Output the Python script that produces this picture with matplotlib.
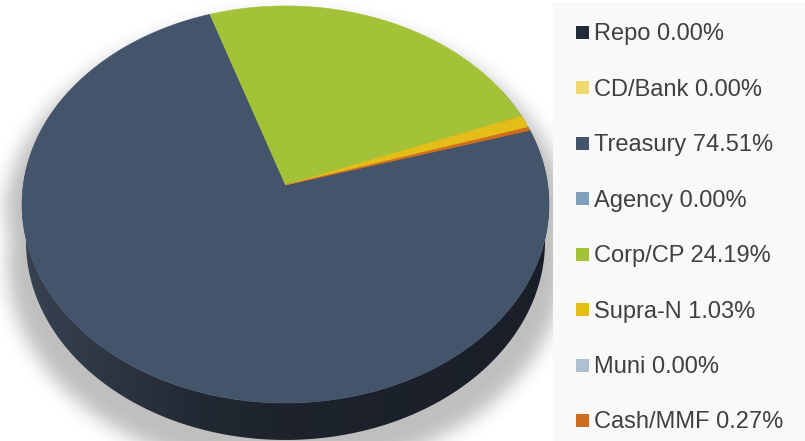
import numpy as np
import matplotlib
matplotlib.use("Agg")
import matplotlib.pyplot as plt
from matplotlib.patches import Polygon, Rectangle
from matplotlib.path import Path

# ---------------- data ----------------
categories = ["Repo", "CD/Bank", "Treasury", "Agency", "Corp/CP", "Supra-N", "Muni", "Cash/MMF"]
values = [0.00, 0.00, 74.51, 0.00, 24.19, 1.03, 0.00, 0.27]
colors = ["#222b38", "#f0da70", "#44546a", "#809fb8", "#a3c238", "#e4bd18", "#adc1d1", "#cf6c1d"]
labels = [f"{c} {v:.2f}%" for c, v in zip(categories, values)]

# ---------------- geometry (pixels) ----------------
W, H = 805, 441
CX, CY = 285.5, 185.0          # apex of the pie on the top face
A, B, K = 262.2, 196.6, 0.098  # perspective ellipse parameters
DEPTH, SX_BOT = 37.0, 0.985
START = 73.4                   # degrees, clockwise from the back

fig = plt.figure(figsize=(8.05, 4.41), dpi=100)
fig.patch.set_facecolor("white")
ax = fig.add_axes([0, 0, 1, 1])
ax.set_xlim(0, W)
ax.set_ylim(H, 0)
ax.axis("off")


def proj(theta_deg, dy=0.0, sx=1.0):
    t = np.radians(theta_deg)
    u = np.sin(t)
    v = -np.cos(t)
    w = 1 - K * v
    return CX + A * sx * u / w, CY + dy + B * v / w


# silhouette of the whole cylinder
tb = np.linspace(90, 270, 200)
tt = np.linspace(270, 450, 200)
bx, by = proj(tb, DEPTH, SX_BOT)
tx, ty = proj(tt)
sil_x = np.concatenate([bx, tx])
sil_y = np.concatenate([by, ty])

# ---------------- shadow ----------------
pad = 60
gx = np.arange(-pad, W + pad)
gy = np.arange(-pad, H + pad)
XX, YY = np.meshgrid(gx, gy)
shx = CX + (sil_x - CX) * 1.07
shy = 205 + (sil_y - 205) * 1.05 + 20
mask = Path(np.column_stack([shx, shy])).contains_points(
    np.column_stack([XX.ravel(), YY.ravel()])).reshape(XX.shape).astype(float)
sig = 9.0
kx = np.arange(-3 * int(sig), 3 * int(sig) + 1)
kern = np.exp(-kx ** 2 / (2 * sig ** 2))
kern /= kern.sum()
blur = np.apply_along_axis(lambda r: np.convolve(r, kern, mode="same"), 1, mask)
blur = np.apply_along_axis(lambda c: np.convolve(c, kern, mode="same"), 0, blur)
rgba = np.zeros(blur.shape + (4,))
rgba[..., :3] = 0.3
rgba[..., 3] = 0.36 * blur
ax.imshow(rgba, extent=(gx[0] - 0.5, gx[-1] + 0.5, gy[-1] + 0.5, gy[0] - 0.5),
          origin="upper", zorder=1, interpolation="bilinear")

# ---------------- side wall ----------------
ts = np.linspace(60, 300, 300)
sx1, sy1 = proj(ts)
sx2, sy2 = proj(ts[::-1], DEPTH, SX_BOT)
side = Polygon(np.column_stack([np.concatenate([sx1, sx2]), np.concatenate([sy1, sy2])]),
               closed=True, facecolor="none", edgecolor="none")
ax.add_patch(side)
xs = np.linspace(0, W, 400)
stops_x = [20, 200, 285, 560]
stops_c = np.array([[0.22, 0.26, 0.32], [0.135, 0.16, 0.2], [0.115, 0.137, 0.176], [0.1, 0.12, 0.16]])
grad = np.stack([np.interp(xs, stops_x, stops_c[:, i]) for i in range(3)], axis=-1)
grad_img = np.repeat(grad[None, :, :], 2, axis=0)
im = ax.imshow(grad_img, extent=(0, W, H, 0), aspect="auto", zorder=2, interpolation="bilinear")
im.set_clip_path(side)

# ---------------- top face ----------------
cum = START
for val, col in zip(values, colors):
    span = val * 3.6
    if val > 0:
        th = np.linspace(cum, cum + span, max(int(span * 2), 4))
        px, py = proj(th)
        poly = Polygon(np.column_stack([np.concatenate([[CX], px]), np.concatenate([[CY], py])]),
                       closed=True, facecolor=col, edgecolor=col, linewidth=0.4, zorder=3)
        ax.add_patch(poly)
    cum += span

# ---------------- legend ----------------
ax.add_patch(Rectangle((553, 2), W - 553, H - 2, facecolor="#f9f9f9", edgecolor="none", zorder=5))
for i, (lab, col) in enumerate(zip(labels, colors)):
    yc = 32.5 + i * 55.45
    ax.add_patch(Rectangle((576, yc - 6.5), 13, 13, facecolor=col, edgecolor="none", zorder=6))
    ax.text(594, yc + 7.8, lab, fontsize=17.0, family="Liberation Sans", color="#404040",
            va="baseline", ha="left", zorder=6)

fig.savefig("out.png", dpi=100, facecolor="white")
